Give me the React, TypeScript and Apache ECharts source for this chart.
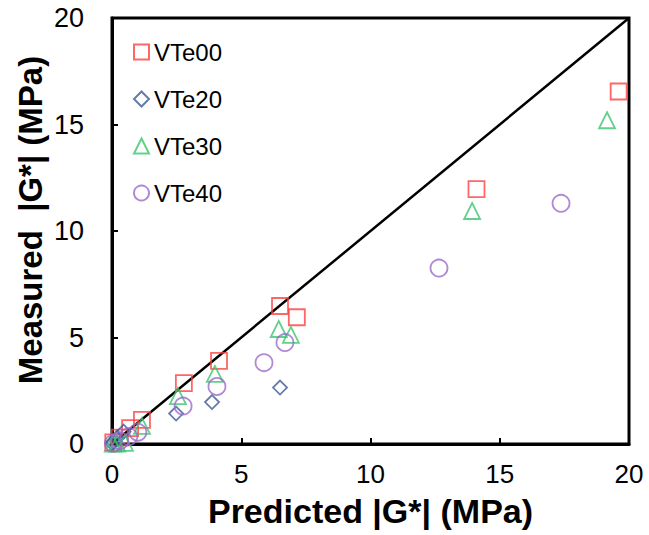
import React, { useEffect, useRef } from "react";
import * as echarts from "echarts";

const seriesNames = ["VTe00", "VTe20", "VTe30", "VTe40"];
const vte00: number[][] = [[19.6, 16.55], [14.1, 11.97], [7.15, 5.95], [6.5, 6.48], [4.14, 3.9], [2.78, 2.86], [1.16, 1.13], [0.7, 0.75], [0.3, 0.3], [0.05, 0.08]];
const vte20: number[][] = [[6.5, 2.65], [3.87, 1.97], [2.48, 1.43], [0.45, 0.58], [0.2, 0.3], [0.05, 0.1], [0.01, 0.02]];
const vte30: number[][] = [[19.15, 15.2], [13.93, 10.94], [6.92, 5.12], [6.45, 5.4], [3.98, 3.29], [2.55, 2.25], [1.16, 0.85], [0.5, 0.05], [0.2, 0.02], [0.03, 0.02]];
const vte40: number[][] = [[17.37, 11.3], [12.65, 8.26], [6.69, 4.76], [5.88, 3.82], [4.06, 2.7], [2.75, 1.78], [1.0, 0.55], [0.65, 0.35], [0.3, 0.15], [0.05, 0.03]];
const equalityLine: number[][] = [[0, 0], [20, 20]];
const axisMin = 0;
const axisMax = 20;
const axisInterval = 5;

const colors = ["#ff4040", "#3d5a94", "#3cc46e", "#9a6bcc"];
const symbols = ["rect", "diamond", "triangle", "circle"];
const sizes = [16, 14, 16, 17];

export default function App() {
  const ref = useRef<HTMLDivElement>(null);
  useEffect(() => {
    if (!ref.current) return;
    const chart = echarts.init(ref.current, null, { renderer: "svg" });
    const datasets = [vte00, vte20, vte30, vte40];
    const font = "'Liberation Sans', Arial, sans-serif";
    const axisCommon = {
      type: "value" as const,
      min: axisMin,
      max: axisMax,
      interval: axisInterval,
      splitLine: { show: false },
      axisLine: { show: true, lineStyle: { color: "#000", width: 3 } },
      axisTick: { show: true, inside: true, length: 6, lineStyle: { color: "#000", width: 2 } },
      nameLocation: "middle" as const,
      nameMoveOverlap: false,
    };
    chart.setOption({
      animation: false,
      backgroundColor: "#fff",
      textStyle: { fontFamily: font },
      grid: {
        left: 112, right: 20, top: 18, bottom: 91,
        outerBoundsMode: "none",
        containLabel: false,
        show: true, borderColor: "#000", borderWidth: 3,
      },
      legend: {
        orient: "vertical",
        left: 128,
        top: 35,
        itemGap: 23,
        itemWidth: 15,
        itemHeight: 15,
        data: seriesNames,
        textStyle: { fontSize: 24, color: "#000", fontFamily: font },
      },
      xAxis: {
        ...axisCommon,
        name: "Predicted |G*| (MPa)",
        nameGap: 50,
        nameTextStyle: { fontFamily: font, fontWeight: "bold", fontSize: 34, color: "#000" },
        axisLabel: { fontSize: 26, color: "#000", margin: 17, fontFamily: font },
      },
      yAxis: {
        ...axisCommon,
        name: "Measured  |G*| (MPa)",
        nameGap: 65,
        nameTextStyle: { fontFamily: font, fontWeight: "bold", fontSize: 33, color: "#000", padding: [0, 0, 0, 22] },
        axisLabel: { fontSize: 27, color: "#000", margin: 28, fontFamily: font },
      },
      series: [
        {
          type: "line",
          data: equalityLine,
          showSymbol: false,
          symbol: "none",
          lineStyle: { color: "#000", width: 2.5 },
          z: 1,
          silent: true,
        },
        ...datasets.map((d, i) => ({
          name: seriesNames[i],
          type: "scatter",
          data: d,
          symbol: symbols[i],
          symbolSize: sizes[i],
          clip: false,
          itemStyle: { color: "rgba(255,255,255,0)", borderColor: colors[i], borderWidth: 1.8 },
          z: 3,
        })),
      ],
    });
    return () => chart.dispose();
  }, []);
  return (
    <div
      ref={ref}
      style={{ position: "absolute", left: 0, top: 0, width: 649, height: 535 }}
    />
  );
}
